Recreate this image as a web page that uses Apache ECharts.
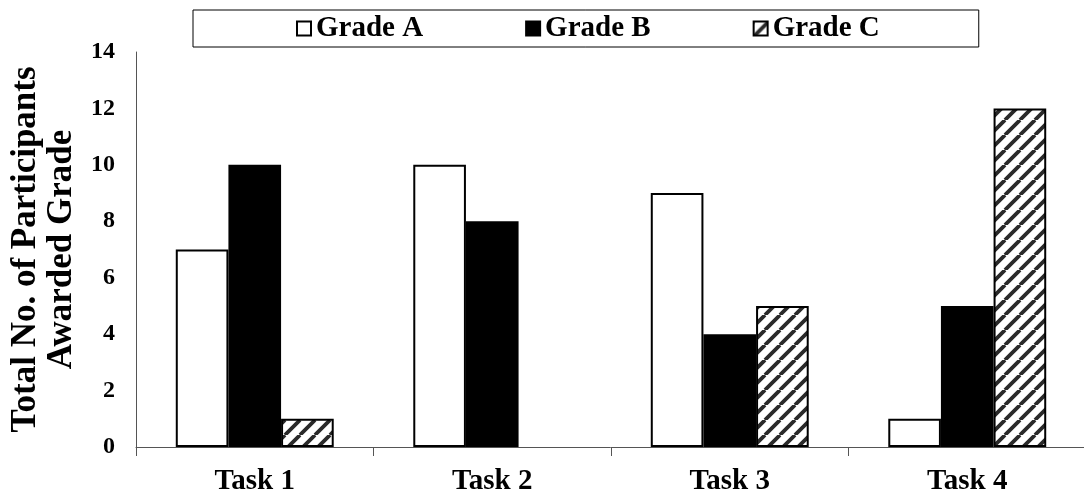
<!DOCTYPE html>
<html><head><meta charset="utf-8">
<script src="https://cdn.jsdelivr.net/npm/echarts@6/dist/echarts.min.js"></script>
<style>html,body{margin:0;padding:0;background:#fff}#c{width:1084px;height:500px}</style>
</head><body><div id="c"></div>
<script>
const categories = ['Task 1', 'Task 2', 'Task 3', 'Task 4'];
const seriesNames = ['Grade A', 'Grade B', 'Grade C'];
const gradeA = [7, 10, 9, 1];
const gradeB = [10, 8, 4, 5];
const gradeC = [1, 0, 5, 12];
const yAxisTitle = 'Total No. of Participants\nAwarded Grade';

const FONT = "'Liberation Serif', 'Times New Roman', serif";

function hatchCanvas() {
  const s = 15;
  const c = document.createElement('canvas');
  c.width = s; c.height = s;
  const g = c.getContext('2d');
  g.fillStyle = '#fff';
  g.fillRect(0, 0, s, s);
  g.strokeStyle = '#2a2a2a';
  g.lineWidth = 3.8;
  g.beginPath();
  for (let k = -1; k <= 1; k++) {
    g.moveTo(k * s, s);
    g.lineTo(k * s + s, 0);
  }
  g.stroke();
  return c;
}

// zero-height bars get no outline so they do not draw a line on the axis
function toData(arr) {
  return arr.map(v => v === 0 ? { value: v, itemStyle: { borderWidth: 0 } } : v);
}

const chart = echarts.init(document.getElementById('c'), null, { renderer: 'canvas' });
const hatch = { image: hatchCanvas(), repeat: 'repeat' };

chart.setOption({
  backgroundColor: '#fff',
  animation: false,
  textStyle: { fontFamily: FONT },
  grid: { left: 136, top: 52, right: -2, bottom: 53, containLabel: false, outerBoundsMode: 'none' },
  legend: {
    left: 193, top: 10,
    padding: [4, 99, 4, 103],
    borderColor: '#000', borderWidth: 1,
    itemWidth: 14, itemHeight: 14, itemGap: 102,
    icon: 'rect',
    textStyle: { fontFamily: FONT, fontWeight: 'bold', fontSize: 29, color: '#000' },
    data: seriesNames
  },
  xAxis: {
    type: 'category',
    data: categories,
    axisLine: { lineStyle: { color: '#555', width: 1 } },
    axisTick: { show: true, length: 9, lineStyle: { color: '#555' } },
    axisLabel: { fontFamily: FONT, fontWeight: 'bold', fontSize: 29, color: '#000', margin: 20 }
  },
  yAxis: {
    type: 'value',
    min: 0, max: 14, interval: 2,
    name: yAxisTitle,
    nameLocation: 'middle',
    nameGap: 56,
    nameTextStyle: { fontFamily: FONT, fontWeight: 'bold', fontSize: 35, color: '#000', lineHeight: 36, padding: [0, 0, 0, 0] },
    axisLine: { show: true, lineStyle: { color: '#555', width: 1 } },
    axisTick: { show: false },
    splitLine: { show: false },
    axisLabel: { fontFamily: FONT, fontWeight: 'bold', fontSize: 24, color: '#000', margin: 21 }
  },
  series: [
    { name: seriesNames[0], type: 'bar', data: toData(gradeA), barGap: '0%', barCategoryGap: '33.5%',
      itemStyle: { color: '#fff', borderColor: '#000', borderWidth: 2 } },
    { name: seriesNames[1], type: 'bar', data: toData(gradeB),
      itemStyle: { color: '#000', borderColor: '#000', borderWidth: 2 } },
    { name: seriesNames[2], type: 'bar', data: toData(gradeC),
      itemStyle: { color: hatch, borderColor: '#000', borderWidth: 2 } }
  ]
});
</script>
</body></html>
